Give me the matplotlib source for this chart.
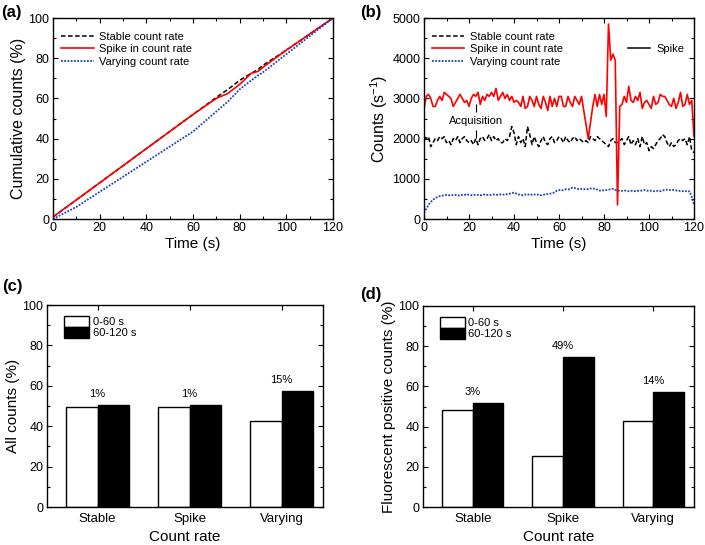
import numpy as np
import matplotlib
matplotlib.use("Agg")
import matplotlib.pyplot as plt
from matplotlib.lines import Line2D
from matplotlib.patches import Patch
from matplotlib.ticker import MultipleLocator

plt.rcParams['font.family'] = ['Liberation Sans', 'DejaVu Sans']
plt.rcParams['mathtext.default'] = 'regular'

# (a) cumulative counts, read every 10 s
t_cum = [0, 10, 20, 30, 40, 50, 60, 70, 75, 80, 85, 88, 90, 100, 110, 120]
cum_stable = [1, 9.5, 18, 26.5, 35, 43.5, 52, 60.5, 64.5, 69, 72.5, 74.5, 76.5, 84, 92, 100]
cum_spike = [1, 9.5, 18, 26.5, 35, 43.5, 52, 60, 62.5, 67, 72.5, 73.5, 75.5, 84, 92, 100]
cum_varying = [0, 6, 13.5, 21, 28.5, 36, 43.5, 53.5, 58.5, 64.5, 69, 71.5, 73, 82, 91, 100]

# (b) count rate per second, t = 0..120 s
t_rate = list(range(121))
rate_spike = [
    2750, 3050, 3100, 3000, 2800, 2800, 2950, 3050, 2950, 3150,
    3100, 3050, 3000, 2800, 2900, 3000, 3100, 3000, 2900, 2950,
    2800, 3000, 3100, 3050, 3150, 2850, 3050, 2950, 3100, 3050,
    3150, 3050, 3250, 2950, 3050, 3150, 3000, 3100, 2950, 3050,
    2900, 2950, 2900, 2800, 3050, 2750, 2800, 3050, 2950, 2800,
    3050, 2850, 2750, 3050, 2900, 2700, 3050, 2800, 3000, 2800,
    3050, 3050, 2800, 2800, 3050, 2900, 2800, 3050, 2950, 2850,
    3050, 2700, 2350, 2000, 2400, 2800, 3100, 2800, 3100, 2850,
    3100, 2550, 4850, 3950, 4100, 3950, 350, 2800, 2850, 3050,
    2900, 3300, 2950, 2900, 3050, 2950, 3150, 2750, 2900, 2950,
    2850, 2750, 3050, 2850, 2900, 3100, 3050, 3050, 2950, 2850,
    2800, 3000, 2750, 2900, 3150, 2800, 2850, 3100, 2850, 2950,
    2050]
rate_stable = [
    2050, 2000, 2050, 1800, 1900, 2000, 1950, 2050, 2000, 2050,
    1900, 1950, 1850, 2000, 1950, 2050, 1900, 2000, 2050, 1950,
    1900, 1950, 1850, 2000, 1850, 2000, 2050, 1950, 2000, 2100,
    1950, 2050, 1950, 2000, 1900, 1900, 2000, 1950, 2050, 2300,
    2150, 1850, 2050, 1900, 2000, 1800, 2300, 2100, 1850, 2050,
    1900, 1800, 1950, 2050, 1900, 1850, 2000, 2050, 1900, 1950,
    2050, 2000, 1900, 2050, 1950, 1900, 2000, 2050, 1950, 2000,
    1950, 1900, 1950, 1900, 2050, 2000, 1950, 2050, 2000, 1950,
    1900, 1850, 1800, 1950, 2000, 1900, 1900, 1950, 2000, 1850,
    1950, 2050, 1850, 1950, 1850, 2000, 1800, 2050, 1850, 1900,
    1700, 1800, 1750, 1850, 1950, 2000, 2100, 2050, 1900, 1800,
    1900, 1800, 1850, 1950, 2000, 1950, 2000, 1850, 2050, 1700,
    1650]
rate_varying = [
    150, 250, 350, 420, 480, 520, 550, 570, 580, 590,
    600, 590, 600, 590, 600, 590, 580, 600, 600, 620,
    600, 590, 600, 600, 600, 590, 600, 610, 600, 600,
    600, 610, 600, 600, 610, 610, 600, 620, 630, 640,
    660, 630, 610, 600, 590, 610, 600, 620, 600, 610,
    600, 610, 590, 600, 620, 620, 630, 640, 660, 700,
    720, 710, 720, 740, 730, 760, 780, 770, 750, 740,
    750, 740, 750, 740, 760, 750, 760, 730, 710, 700,
    720, 720, 730, 740, 750, 720, 710, 700, 700, 710,
    700, 690, 700, 700, 690, 700, 700, 710, 720, 700,
    710, 700, 690, 700, 700, 690, 710, 720, 730, 720,
    730, 720, 710, 700, 700, 690, 700, 680, 690, 550,
    350]
acq_time = 23
acq_label_y = 2430

# (c), (d) bar data
categories = ["Stable", "Spike", "Varying"]
all_first = [49.5, 49.5, 42.5]
all_second = [50.5, 50.5, 57.5]
all_diff = ["1%", "1%", "15%"]
fl_first = [48.5, 25.5, 43]
fl_second = [51.5, 74.5, 57]
fl_diff = ["3%", "49%", "14%"]

W, H = 705, 545
fig = plt.figure(figsize=(W / 100, H / 100), dpi=100)

TICK_FS = 9
LABEL_FS = 11
LEG_FS = 8


def add_ax(l, r, t, b):
    return fig.add_axes([l / W, 1 - b / H, (r - l) / W, (b - t) / H])


def style(ax):
    ax.tick_params(which='both', direction='in', top=True, right=True, labelsize=TICK_FS, width=0.8)
    ax.tick_params(which='major', length=3.5, pad=2.5)
    ax.tick_params(which='minor', length=2)
    for s in ax.spines.values():
        s.set_linewidth(1.0)


ax_a = add_ax(53, 333, 18, 219)
ax_b = add_ax(424, 694, 18, 219)
ax_c = add_ax(47, 323, 305, 507)
ax_d = add_ax(423, 694, 306, 507)

st_kw = dict(color='black', lw=1.1, dashes=(3, 1.6))
sp_kw = dict(color='#ff0000', lw=1.2)
va_kw = dict(color='#1f3fbf', lw=1.3, dashes=(1, 0.8))

leg_kw = dict(loc='upper left', bbox_to_anchor=(0.03, 0.93), frameon=False, fontsize=LEG_FS,
              handlelength=2.9, handletextpad=0.5, labelspacing=0.2, borderaxespad=0, borderpad=0)

# (a)
ax_a.plot(t_cum, cum_stable, label='Stable count rate', **st_kw)
ax_a.plot(t_cum, cum_spike, label='Spike in count rate', **sp_kw)
ax_a.plot(t_cum, cum_varying, label='Varying count rate', **va_kw)
ax_a.set_xlim(0, 120)
ax_a.set_ylim(0, 100)
ax_a.xaxis.set_major_locator(MultipleLocator(20))
ax_a.xaxis.set_minor_locator(MultipleLocator(10))
ax_a.yaxis.set_major_locator(MultipleLocator(20))
ax_a.yaxis.set_minor_locator(MultipleLocator(10))
ax_a.set_xlabel('Time (s)', fontsize=LABEL_FS, labelpad=2)
ax_a.set_ylabel('Cumulative counts (%)', fontsize=LABEL_FS + 0.5, labelpad=2)
ax_a.legend(**leg_kw)
style(ax_a)

# (b)
ax_b.plot(t_rate, rate_stable, label='Stable count rate', **st_kw)
ax_b.plot(t_rate, rate_spike, label='Spike in count rate', **sp_kw)
ax_b.plot(t_rate, rate_varying, label='Varying count rate', **va_kw)
ax_b.set_xlim(0, 120)
ax_b.set_ylim(0, 5000)
ax_b.xaxis.set_major_locator(MultipleLocator(20))
ax_b.xaxis.set_minor_locator(MultipleLocator(10))
ax_b.yaxis.set_major_locator(MultipleLocator(1000))
ax_b.yaxis.set_minor_locator(MultipleLocator(500))
ax_b.set_xlabel('Time (s)', fontsize=LABEL_FS, labelpad=2)
ax_b.set_ylabel('Counts (s$^{-1}$)', fontsize=LABEL_FS + 0.5, labelpad=2)
leg = ax_b.legend(**leg_kw)
ax_b.add_artist(leg)
ax_b.legend(handles=[Line2D([], [], color='black', lw=1.1)], labels=['Spike'],
            loc='upper left', bbox_to_anchor=(0.755, 0.87), frameon=False, fontsize=LEG_FS,
            handlelength=2.0, handletextpad=0.6, borderaxespad=0, borderpad=0)
ax_b.text(acq_time, acq_label_y, 'Acquisition', fontsize=LEG_FS, ha='center', va='center')
ax_b.vlines(acq_time, acq_label_y + 220, acq_label_y + 420, color='black', lw=0.8)
ax_b.vlines(acq_time, acq_label_y - 420, acq_label_y - 220, color='black', lw=0.8)
style(ax_b)


def bars(ax, first, second, diff, ylabel):
    x = np.arange(1, len(categories) + 1)
    w = 0.34
    ax.bar(x - w / 2, first, w, color='white', edgecolor='black', lw=1.0)
    ax.bar(x + w / 2, second, w, color='black', edgecolor='black', lw=1.0)
    for xi, a, b, lab in zip(x, first, second, diff):
        ax.text(xi, max(a, b) + 3, lab, ha='center', va='bottom', fontsize=LEG_FS)
    ax.set_xlim(0.45, 3.45)
    ax.set_ylim(0, 100)
    ax.set_xticks(x)
    ax.set_xticklabels(categories)
    ax.yaxis.set_major_locator(MultipleLocator(20))
    ax.yaxis.set_minor_locator(MultipleLocator(10))
    ax.set_xlabel('Count rate', fontsize=LABEL_FS, labelpad=4)
    ax.set_ylabel(ylabel, fontsize=LABEL_FS, labelpad=2)
    handles = [Patch(facecolor='white', edgecolor='black', lw=1.0),
               Patch(facecolor='black', edgecolor='black', lw=1.0)]
    ax.legend(handles, ['0-60 s', '60-120 s'], loc='upper left', bbox_to_anchor=(0.063, 0.945),
              frameon=False, fontsize=LEG_FS, handlelength=2.25, handleheight=1.1,
              handletextpad=0.3, labelspacing=0.0, borderaxespad=0, borderpad=0)
    style(ax)
    ax.tick_params(axis='x', which='minor', top=False, bottom=False)
    ax.tick_params(axis='x', labelsize=TICK_FS + 0.5, pad=4)


bars(ax_c, all_first, all_second, all_diff, 'All counts (%)')
bars(ax_d, fl_first, fl_second, fl_diff, 'Fluorescent positive counts (%)')

fig.text(1 / W, 1 - 12 / H, '(a)', fontsize=12, fontweight='bold', va='center', ha='left')
fig.text(360 / W, 1 - 12 / H, '(b)', fontsize=12, fontweight='bold', va='center', ha='left')
fig.text(2 / W, 1 - 287 / H, '(c)', fontsize=12, fontweight='bold', va='center', ha='left')
fig.text(360 / W, 1 - 295 / H, '(d)', fontsize=12, fontweight='bold', va='center', ha='left')

fig.savefig('out.png', dpi=100)
